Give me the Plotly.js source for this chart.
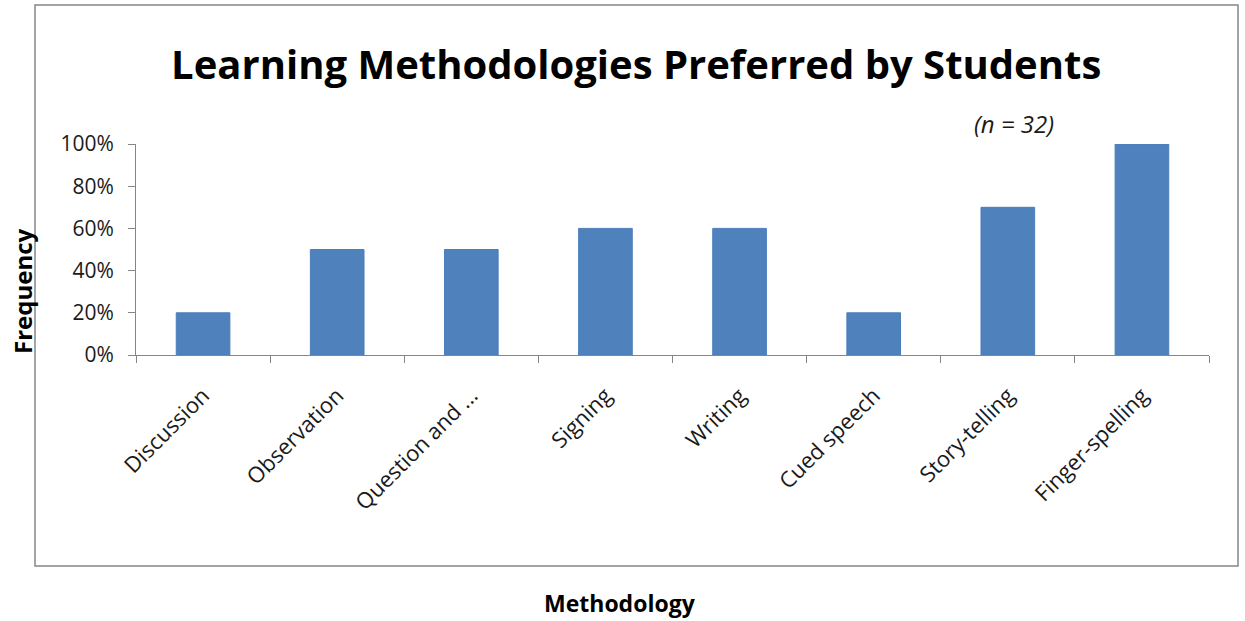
<!DOCTYPE html>
<html>
<head>
<meta charset="utf-8">
<script src="https://cdn.plot.ly/plotly-3.0.1.min.js"></script>
<style>html,body{margin:0;padding:0;background:#fff;}#chart{width:1245px;height:621px;}</style>
</head>
<body>
<div id="chart"></div>
<script>
const categories = ["Discussion", "Observation", "Question and ...", "Signing", "Writing", "Cued speech", "Story-telling", "Finger-spelling"];
const frequency = [0.20, 0.50, 0.50, 0.60, 0.60, 0.20, 0.70, 1.00];
const yTickVals = [0, 0.2, 0.4, 0.6, 0.8, 1.0];
const yTickText = ["0%", "20%", "40%", "60%", "80%", "100%"];

const FONT = "'Open Sans', 'Noto Sans', sans-serif";
const trace = {
  type: 'bar',
  x: categories,
  y: frequency,
  marker: {color: '#4F81BD', line: {color: '#4A7EBB', width: 1}},
  hoverinfo: 'none'
};
const layout = {
  width: 1245, height: 621,
  paper_bgcolor: '#fff', plot_bgcolor: '#fff',
  margin: {l: 136, r: 36, t: 144, b: 266},
  bargap: 0.6,
  showlegend: false,
  font: {family: FONT, color: '#000'},
  title: {
    text: '<b>Learning Methodologies Preferred by Students</b>',
    font: {family: FONT, size: 40, color: '#000'},
    xref: 'container', x: 0.511, xanchor: 'center',
    yref: 'container', y: 0.895, yanchor: 'middle'
  },
  xaxis: {
    type: 'category',
    showline: true, linecolor: '#868686', linewidth: 1,
    ticks: 'outside', tickson: 'boundaries', ticklen: 7, tickcolor: '#868686',
    tickangle: -45, ticklabelstandoff: 18,
    tickfont: {family: FONT, size: 22, color: '#1a1a1a'},
    showgrid: false, zeroline: false
  },
  yaxis: {
    range: [0, 1],
    tickvals: yTickVals, ticktext: yTickText,
    showline: true, linecolor: '#868686', linewidth: 1,
    ticks: 'outside', ticklen: 7, tickcolor: '#868686', ticklabelstandoff: 10,
    tickfont: {family: FONT, size: 21, color: '#1a1a1a'},
    showgrid: false, zeroline: false
  },
  shapes: [{
    type: 'rect', xref: 'paper', yref: 'paper',
    x0: (35 - 136) / 1073, x1: (1238 - 136) / 1073,
    y0: (355 - 566) / 211, y1: (355 - 5) / 211,
    line: {color: '#868686', width: 1.5}, fillcolor: 'rgba(0,0,0,0)', layer: 'below'
  }],
  annotations: [
    {text: '<i>(n = 32)</i>', xref: 'paper', yref: 'paper',
     x: (1014 - 136) / 1073, y: (355 - 123) / 211, xanchor: 'center', yanchor: 'middle',
     showarrow: false, font: {family: FONT, size: 24, color: '#1a1a1a'}},
    {text: '<b>Frequency</b>', xref: 'paper', yref: 'paper', textangle: -90,
     x: (22 - 136) / 1073, y: (355 - 291) / 211, xanchor: 'center', yanchor: 'middle',
     showarrow: false, font: {family: FONT, size: 24, color: '#000'}},
    {text: '<b>Methodology</b>', xref: 'paper', yref: 'paper',
     x: (620 - 136) / 1073, y: (355 - 603) / 211, xanchor: 'center', yanchor: 'middle',
     showarrow: false, font: {family: FONT, size: 23, color: '#000'}}
  ]
};
Plotly.newPlot('chart', [trace], layout, {displayModeBar: false, staticPlot: true});
</script>
</body>
</html>
